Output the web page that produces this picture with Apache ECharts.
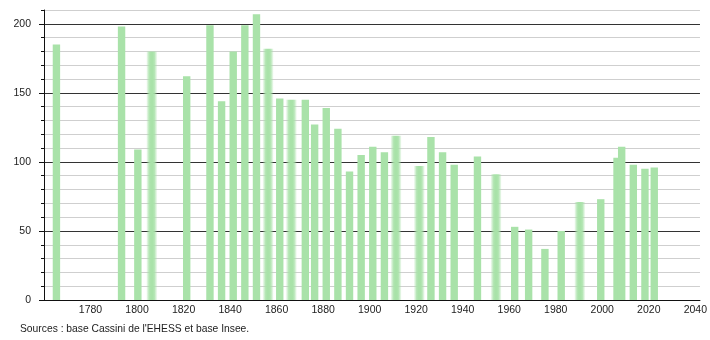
<!DOCTYPE html>
<html>
<head>
<meta charset="utf-8">
<script src="https://cdn.jsdelivr.net/npm/echarts@6/dist/echarts.min.js"></script>
<style>
html,body{margin:0;padding:0;background:#fff;}
#chart{width:710px;height:340px;}
</style>
</head>
<body>
<div id="chart"></div>
<script>
const years = [1765, 1793, 1800, 1806, 1821, 1831, 1836, 1841, 1846, 1851, 1856, 1861, 1866, 1872, 1876, 1881, 1886, 1891, 1896, 1901, 1906, 1911, 1921, 1926, 1931, 1936, 1946, 1954, 1962, 1968, 1975, 1982, 1990, 1999, 2006, 2008, 2013, 2018, 2022];
const population = [185, 198, 109, 180, 162, 199, 144, 180, 199, 207, 182, 146, 145, 145, 127, 139, 124, 93, 105, 111, 107, 119, 97, 118, 107, 98, 104, 91, 53, 51, 37, 50, 71, 73, 103, 111, 98, 95, 96];
const fadedYears = [1806, 1856, 1866, 1911, 1921, 1954, 1990];
const majorTicks = [0, 50, 100, 150, 200];
const xTickLabels = [1780, 1800, 1820, 1840, 1860, 1880, 1900, 1920, 1940, 1960, 1980, 2000, 2020, 2040];
const sourceText = "Sources : base Cassini de l'EHESS et base Insee.";

const barColor = '#a9e2a9';
function fadeFill() {
  return new echarts.graphic.LinearGradient(0, 0, 1, 0, [
    {offset: 0, color: 'rgba(169,226,169,0.05)'},
    {offset: 0.25, color: 'rgba(169,226,169,0.85)'},
    {offset: 0.4, color: 'rgba(169,226,169,1)'},
    {offset: 0.6, color: 'rgba(169,226,169,1)'},
    {offset: 0.75, color: 'rgba(169,226,169,0.85)'},
    {offset: 1, color: 'rgba(169,226,169,0.05)'}
  ]);
}

const data = years.map((y, i) => [y, population[i]]);
const BAR_W = 7.4;
const FADE_W = 11;

const chart = echarts.init(document.getElementById('chart'), null, {renderer: 'canvas'});
chart.setOption({
  animation: false,
  textStyle: {fontFamily: 'Liberation Sans, Arial, sans-serif'},
  grid: {left: 44, right: 9, top: 10, bottom: 40, containLabel: false},
  xAxis: {
    type: 'value',
    min: 1760,
    max: 2042,
    interval: 20,
    axisLine: {show: true, lineStyle: {color: '#111', width: 1}},
    axisTick: {show: false},
    splitLine: {show: false},
    axisLabel: {
      customValues: xTickLabels,
      color: '#222', fontSize: 10.5, margin: 5,
      formatter: v => String(v)
    }
  },
  yAxis: [
    {
      type: 'value', min: 0, max: 210, interval: 10, position: 'left',
      axisLine: {show: true, onZero: false, lineStyle: {color: '#111'}},
      axisTick: {show: true, length: 3, lineStyle: {color: '#111'}},
      axisLabel: {show: false},
      splitLine: {show: true, lineStyle: {color: '#cfcfcf', width: 1}}
    },
    {
      type: 'value', min: 0, max: 210, position: 'left',
      axisLine: {show: false},
      axisTick: {show: true, length: 5, customValues: majorTicks, lineStyle: {color: '#111'}},
      axisLabel: {customValues: majorTicks, color: '#222', fontSize: 10.5, margin: 13},
      splitLine: {show: true, lineStyle: {color: '#333', width: 1}}
    }
  ],
  series: [{
    type: 'custom',
    yAxisIndex: 0,
    encode: {x: 0, y: 1},
    data: data,
    z: 1,
    renderItem: function (params, api) {
      const yr = api.value(0);
      const top = api.coord([yr, api.value(1)]);
      const base = api.coord([yr, 0]);
      const faded = fadedYears.includes(yr);
      const w = faded ? FADE_W : BAR_W;
      return {
        type: 'rect',
        shape: {x: top[0] - w / 2 + 0.8, y: top[1], width: w, height: base[1] - top[1]},
        style: {fill: faded ? fadeFill() : barColor}
      };
    }
  }],
  graphic: [{
    type: 'text',
    left: 20,
    top: 324,
    style: {text: sourceText, fill: '#222', font: '10.3px "Liberation Sans", Arial, sans-serif'}
  }]
});
</script>
</body>
</html>
